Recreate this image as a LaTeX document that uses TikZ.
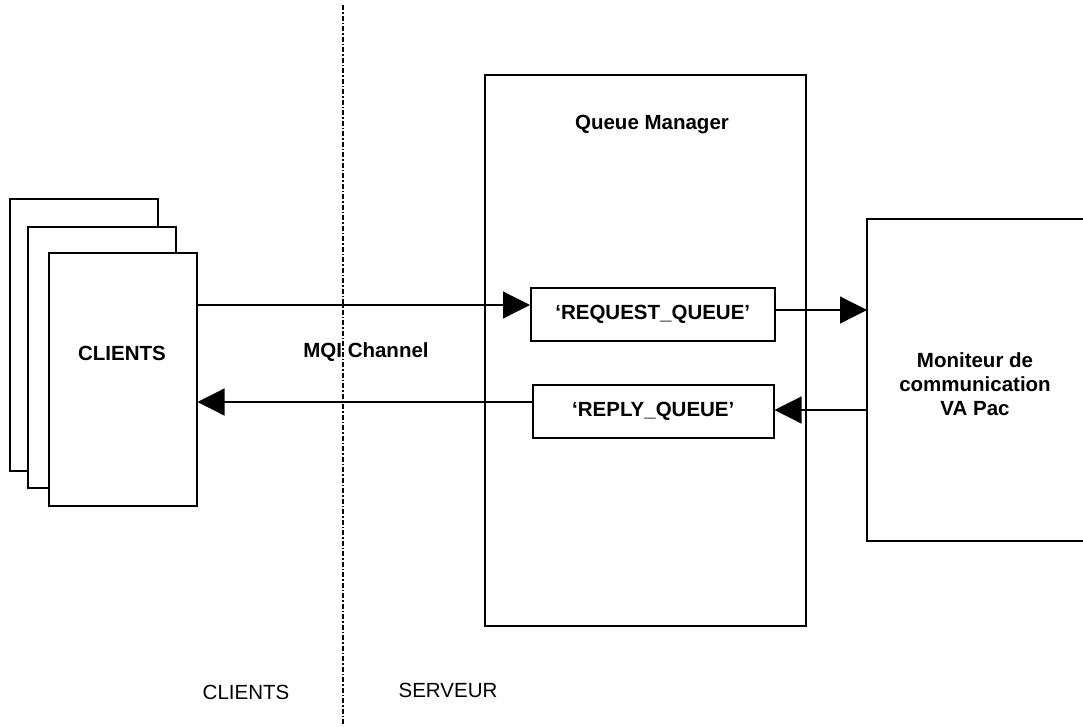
\documentclass[tikz,border=0pt]{standalone}
\usepackage{fontspec}
\setmainfont{Liberation Sans}
\usetikzlibrary{arrows.meta}
\begin{document}
\begin{tikzpicture}[x=1pt,y=-1pt,
  box/.style={draw,line width=1.5pt,fill=white},
  lbl/.style={font=\fontsize{20.5}{24}\selectfont\bfseries,align=center},
  plain/.style={font=\fontsize{20.5}{24}\selectfont},
  conn/.style={line width=1.2pt,-{Triangle[length=27pt,width=27pt]}},
  sep/.style={line width=1.2pt,dash pattern=on 5pt off 2pt on 1.5pt off 2pt}
]
\useasboundingbox (0,0) rectangle (1083,726);
% separator
\coordinate (sepTop) at (343,5);
\coordinate (sepBot) at (343,726);
\draw[sep] (sepTop) -- (sepBot);
% clients stack
\draw[box] (10,199) rectangle (158,471);
\draw[box] (28,227) rectangle (176,488);
\node[box,minimum width=148pt,minimum height=253pt,anchor=north west,inner sep=0pt] (cl) at (48,252) {};
\node[lbl] (cltxt) at (122,353) {CLIENTS};
% queue manager
\node[box,minimum width=321pt,minimum height=551pt,anchor=north west,inner sep=0pt] (qm) at (484,74) {};
\node[lbl] (qmtxt) at (652,125) {Queue Manager};
% queues
\node[box,minimum width=244pt,minimum height=53pt,anchor=north west,inner sep=0pt,lbl] (req) at (530,287) {‘REQUEST\_QUEUE’};
\node[box,minimum width=241pt,minimum height=53pt,anchor=north west,inner sep=0pt,lbl] (rep) at (532,384) {‘REPLY\_QUEUE’};
% moniteur
\draw[line width=1.5pt] (1090,219) -- (867,219) -- (867,541) -- (1090,541);
\coordinate (monL) at (867,310);
\coordinate (monL2) at (867,410);
\node[lbl] (montxt) at (975,384) {Moniteur de\\communication\\VA Pac};
% labels
\node[lbl] (mqi) at (366,352) {MQI Channel};
\node[plain] (cb) at (246,692) {CLIENTS};
\node[plain] (sb) at (448,690) {SERVEUR};
% connectors
\draw[conn] (cl.east |- 0,305) -- (req.west |- 0,305);
\draw[conn] (req.east |- 0,310) -- (monL);
\draw[conn] (monL2) -- (rep.east |- 0,410);
\draw[conn] (rep.west |- 0,402) -- (cl.east |- 0,402);
\end{tikzpicture}
\end{document}
